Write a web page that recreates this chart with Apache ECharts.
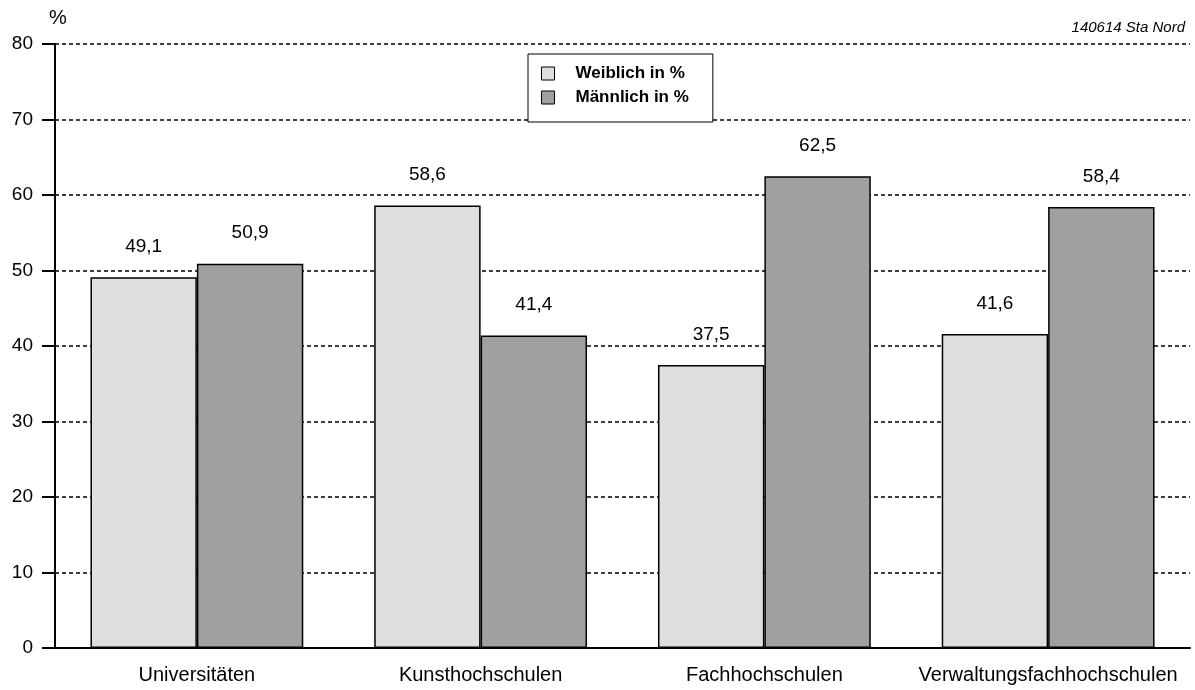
<!DOCTYPE html>
<html><head><meta charset="utf-8">
<script src="https://cdn.jsdelivr.net/npm/echarts@6/dist/echarts.min.js"></script>
<style>html,body{margin:0;padding:0;background:#fff}#c{width:1195px;height:690px}</style>
</head><body><div id="c"></div>
<script>
const categories = ['Universitäten', 'Kunsthochschulen', 'Fachhochschulen', 'Verwaltungsfachhochschulen'];
const weiblich = [49.1, 58.6, 37.5, 41.6];
const maennlich = [50.9, 41.4, 62.5, 58.4];
const seriesNames = ['Weiblich in %', 'Männlich in %'];
const yTicks = [0, 10, 20, 30, 40, 50, 60, 70, 80];

const chart = echarts.init(document.getElementById('c'));
const fmt = p => String(p.value).replace('.', ',');
const F = 'Liberation Sans, Arial, sans-serif';
chart.setOption({
  animation: false,
  textStyle: { fontFamily: F },
  grid: { left: 55, right: 5, top: 44, bottom: 42, containLabel: false },
  graphic: [
    { type: 'text', left: 49, top: 8, style: { text: '%', font: '20px ' + F, fill: '#000' } },
    { type: 'text', right: 10, top: 20, style: { text: '140614 Sta Nord', font: 'italic 15px ' + F, fill: '#000' } }
  ],
  legend: {
    left: 528, top: 54, orient: 'vertical',
    padding: [11, 24, 16, 13], itemGap: 7,
    backgroundColor: '#fff', borderColor: '#000', borderWidth: 1, borderRadius: 0,
    itemWidth: 13, itemHeight: 13,
    textStyle: { fontSize: 17, fontWeight: 'bold', color: '#000', fontFamily: F, padding: [0, 0, 0, 16] },
    data: seriesNames.map(n => ({ name: n, icon: 'rect' })),
    itemStyle: { borderColor: '#000', borderWidth: 1 }
  },
  xAxis: {
    type: 'category', data: categories,
    axisLine: { lineStyle: { color: '#000', width: 2 } },
    axisTick: { show: false },
    axisLabel: { fontSize: 20, color: '#000', margin: 17, fontFamily: F, interval: 0 }
  },
  yAxis: {
    type: 'value', min: 0, max: 80, interval: 10,
    axisLine: { show: true, lineStyle: { color: '#000', width: 2 } },
    axisTick: { show: true, length: 13, lineStyle: { color: '#000', width: 2 } },
    axisLabel: { fontSize: 19, color: '#000', margin: 22, fontFamily: F,
      formatter: v => yTicks.includes(v) ? String(v) : '' },
    splitLine: { show: true, lineStyle: { color: '#000', width: 1.5, type: [4, 3] } }
  },
  series: [
    { name: seriesNames[0], type: 'bar', data: weiblich, barGap: '0%', barCategoryGap: '25%',
      itemStyle: { color: '#dedede', borderColor: '#000', borderWidth: 1.5 },
      label: { show: true, position: 'top', distance: 21, fontSize: 19, color: '#000', formatter: fmt, fontFamily: F } },
    { name: seriesNames[1], type: 'bar', data: maennlich, barGap: '0%', barCategoryGap: '25%',
      itemStyle: { color: '#a0a0a0', borderColor: '#000', borderWidth: 1.5 },
      label: { show: true, position: 'top', distance: 21, fontSize: 19, color: '#000', formatter: fmt, fontFamily: F } }
  ]
});
</script></body></html>
